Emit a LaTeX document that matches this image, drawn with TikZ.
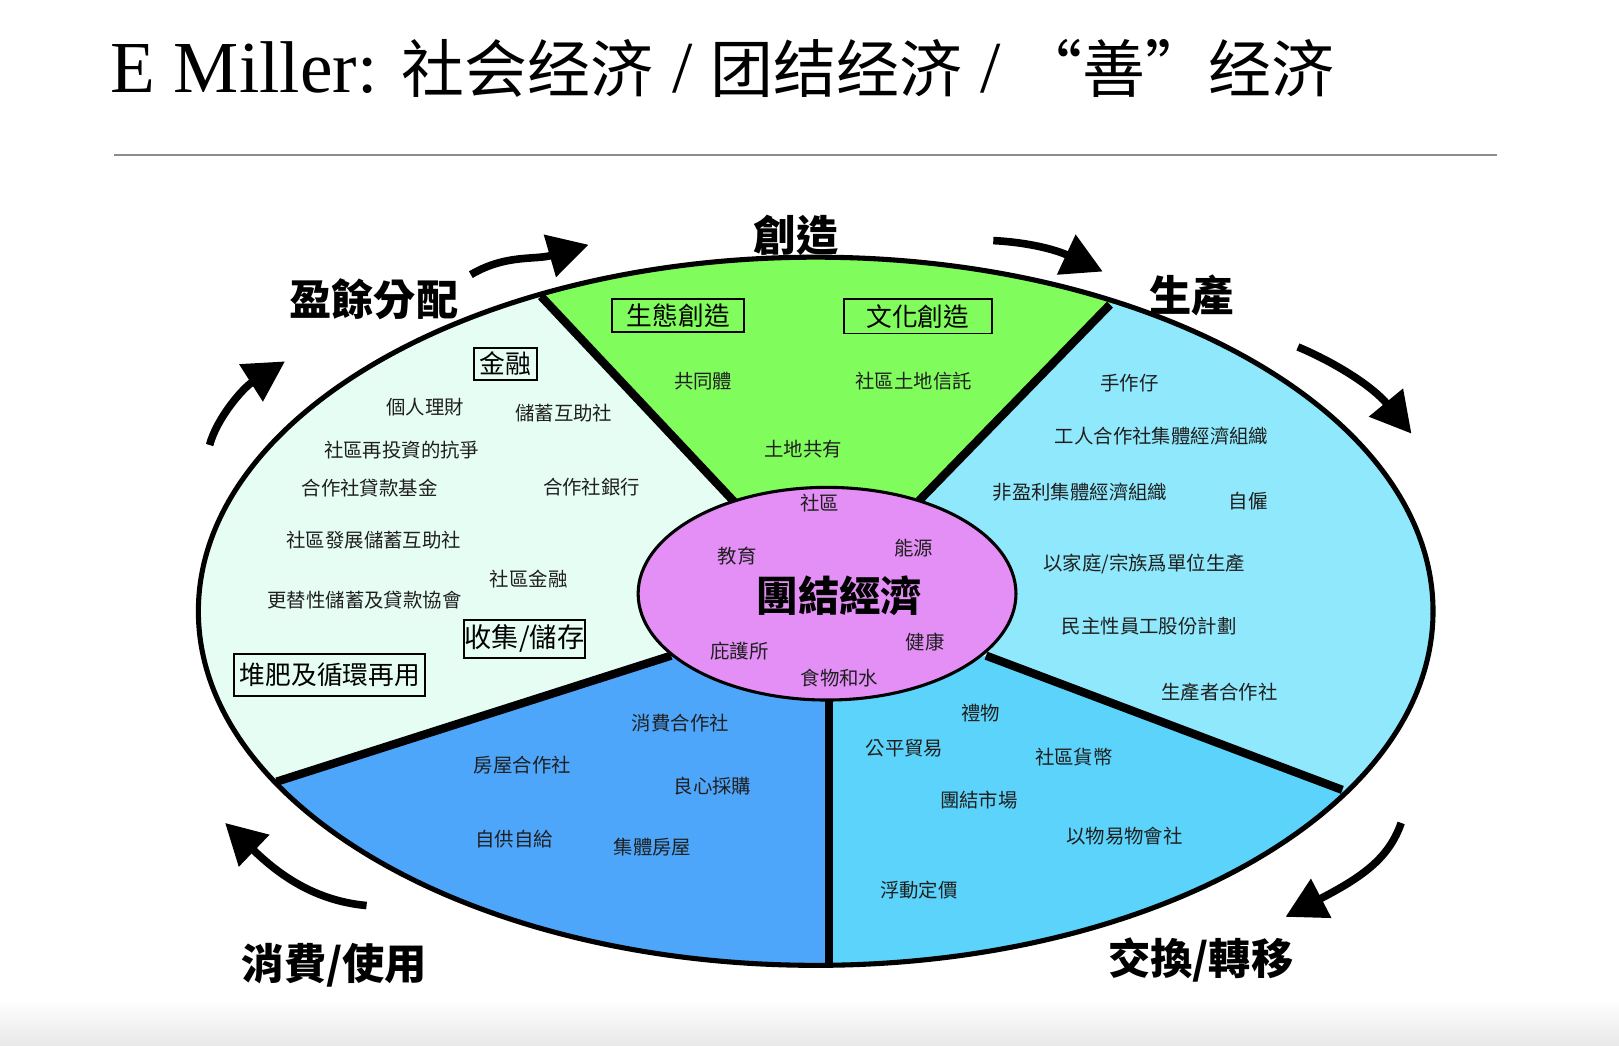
\documentclass[tikz,border=0pt]{standalone}
\usepackage{fontspec}
\setmainfont{Liberation Serif}
\newfontfamily\cjksc{Noto Sans CJK SC}
\newfontfamily\cjktc{Noto Sans CJK TC}
\usetikzlibrary{arrows.meta}
\definecolor{cgreen}{RGB}{128,252,92}
\definecolor{ccyan}{RGB}{143,232,251}
\definecolor{cexch}{RGB}{92,211,250}
\definecolor{cblue}{RGB}{78,166,251}
\definecolor{cmint}{RGB}{230,253,244}
\definecolor{cviolet}{RGB}{228,143,245}
\tikzset{
  sm/.style={font=\cjktc\fontsize{10.7}{12}\selectfont, inner sep=0pt, text=black!88},
  boxlab/.style={draw, line width=1.1pt, inner sep=0pt, font=\cjktc\fontsize{14.2}{16}\selectfont},
  biglab/.style={font=\cjktc\bfseries\fontsize{23.3}{26}\selectfont, inner sep=0pt},
  divider/.style={line width=4.6pt},
  cyc/.style={line width=4.2pt, -{Triangle[length=0.78cm,width=0.82cm]}},
}
\begin{document}
\begin{tikzpicture}[x=0.02cm,y=-0.02cm]
\useasboundingbox (0,0) rectangle (1568,1013);
\fill[white] (0,0) rectangle (1568,1013);
\shade[top color=white, bottom color=black!9] (0,968) rectangle (1568,1013);

% title
\node[anchor=base west, inner sep=0pt] (title) at (107,90)
  {\fontsize{40.4}{48}\selectfont E Miller: {\cjksc\fontsize{34.7}{40}\selectfont 社会经济} / {\cjksc\fontsize{34.7}{40}\selectfont 团结经济} / {\cjksc\fontsize{34.7}{40}\selectfont “善”经济}};
\coordinate (ruleL) at (110,150);
\coordinate (ruleR) at (1450,150);
\draw[line width=0.9pt, black!45] (ruleL) -- (ruleR);

% geometry
\coordinate (O) at (790,592);
\coordinate (I) at (801,575);
\coordinate (a1) at (712,487); \coordinate (b1) at (524,287);
\coordinate (a2) at (890,485); \coordinate (b2) at (1075,295);
\coordinate (a3) at (955,635); \coordinate (b3) at (1300,765);
\coordinate (a4) at (803,678); \coordinate (b4) at (803,935);
\coordinate (a5) at (650,635); \coordinate (b5) at (268,757);

% base fill
\fill[cmint] (O) ellipse [x radius=11.96cm, y radius=6.86cm];
\begin{scope}
  \clip (O) ellipse [x radius=11.96cm, y radius=6.86cm];
  \fill[cgreen] (a1) -- (336,87) -- (790,-200) -- (1260,105) -- (a2) -- cycle;
  \fill[ccyan] (a2) -- (1260,105) -- (1700,150) -- (1700,900) -- (1645,895) -- (a3) -- cycle;
  \fill[cexch] (a3) -- (1645,895) -- (1700,1200) -- (803,1200) -- (a4) -- cycle;
  \fill[cblue] (a4) -- (803,1200) -- (-200,1200) -- (-114,879) -- (a5) -- cycle;
\end{scope}
\draw[divider] (a1) -- (b1);
\draw[divider] (a2) -- (b2);
\draw[divider] (a3) -- (b3);
\draw[divider] (a4) -- (b4);
\draw[divider] (a5) -- (b5);
\draw[line width=2.8pt] (O) ellipse [x radius=11.96cm, y radius=6.86cm];
\fill[cviolet, draw=black, line width=1.7pt] (I) ellipse [x radius=3.66cm, y radius=2.06cm];

% outer labels
\node[biglab] (chuangzao) at (771,228) {創造};
\node[biglab] (yingyu) at (362,290) {盈餘分配};
\node[biglab] (shengchan) at (1154,286) {生產};
\node[biglab] (xiaofei) at (324,935) {消費/使用};
\node[biglab] (jiaohuan) at (1163,930) {交換/轉移};

% cycle arrows
\coordinate (c1s) at (456,266); \coordinate (c1e) at (570,237);
\coordinate (c2s) at (962,233); \coordinate (c2e) at (1068,263);
\coordinate (c3s) at (1257,336); \coordinate (c3e) at (1367,420);
\coordinate (c4s) at (1357,797); \coordinate (c4e) at (1245,888);
\coordinate (c5s) at (355,877); \coordinate (c5e) at (218,797);
\coordinate (c6s) at (203,431); \coordinate (c6e) at (276,350);
\draw[cyc] (c1s) .. controls (490,246) and (518,252) .. (c1e);
\draw[cyc] (c2s) .. controls (1000,235) and (1025,243) .. (c2e);
\draw[cyc] (c3s) .. controls (1295,352) and (1330,375) .. (c3e);
\draw[cyc] (c4s) .. controls (1345,832) and (1318,850) .. (c4e);
\draw[cyc] (c5s) .. controls (300,872) and (265,842) .. (c5e);
\draw[cyc] (c6s) .. controls (210,405) and (235,376) .. (c6e);

% boxes
\node[boxlab, minimum width=2.56cm, minimum height=0.64cm] (shengtai) at (657,306) {生態創造};
\node[boxlab, minimum width=2.88cm, minimum height=0.66cm] (wenhua) at (889,306.5) {文化創造};
\node[boxlab, minimum width=1.22cm, minimum height=0.62cm] (jinrong) at (489.5,352.5) {金融};
\node[boxlab, minimum width=2.36cm, minimum height=0.74cm, font=\cjktc\fontsize{15}{17}\selectfont] (shouji) at (508,618.5) {收集/儲存};
\node[boxlab, minimum width=3.7cm, minimum height=0.82cm] (duifei) at (319.5,653.5) {堆肥及循環再用};

% left sector
\node[sm] (t1) at (412,394) {個人理財};
\node[sm] (t2) at (546,400) {儲蓄互助社};
\node[sm] (t3) at (389,436) {社區再投資的抗爭};
\node[sm] (t4) at (358,473) {合作社貸款基金};
\node[sm] (t5) at (573,472) {合作社銀行};
\node[sm] (t6) at (362,523) {社區發展儲蓄互助社};
\node[sm] (t7) at (512,561) {社區金融};
\node[sm] (t8) at (353,581) {更替性儲蓄及貸款協會};

% green sector
\node[sm] (g1) at (681,369) {共同體};
\node[sm] (g2) at (885,369) {社區土地信託};
\node[sm] (g3) at (778,435) {土地共有};

% center
\node[sm] (m1) at (794,487) {社區};
\node[sm] (m2) at (714,539) {教育};
\node[sm] (m3) at (885,531) {能源};
\node[biglab, font=\cjktc\bfseries\fontsize{22.8}{26}\selectfont] (core) at (813,577) {團結經濟};
\node[sm] (m4) at (716,631) {庇護所};
\node[sm] (m5) at (896,622) {健康};
\node[sm] (m6) at (813,657) {食物和水};

% right sector
\node[sm] (r1) at (1094,371) {手作仔};
\node[sm] (r2) at (1125,422) {工人合作社集體經濟組織};
\node[sm] (r3) at (1046,477) {非盈利集體經濟組織};
\node[sm] (r4) at (1209,485) {自僱};
\node[sm] (r5) at (1108,546) {以家庭/宗族爲單位生產};
\node[sm] (r6) at (1113,606) {民主性員工股份計劃};
\node[sm] (r7) at (1181,670) {生產者合作社};

% exchange sector
\node[sm] (e1) at (950,691) {禮物};
\node[sm] (e2) at (876,725) {公平貿易};
\node[sm] (e3) at (1040,733) {社區貨幣};
\node[sm] (e4) at (948,775) {團結市場};
\node[sm] (e5) at (1089,810) {以物易物會社};
\node[sm] (e6) at (890,862) {浮動定價};

% consumption sector
\node[sm] (u1) at (659,700) {消費合作社};
\node[sm] (u2) at (506,741) {房屋合作社};
\node[sm] (u3) at (690,761) {良心採購};
\node[sm] (u4) at (498,813) {自供自給};
\node[sm] (u5) at (632,820) {集體房屋};
\end{tikzpicture}
\end{document}
